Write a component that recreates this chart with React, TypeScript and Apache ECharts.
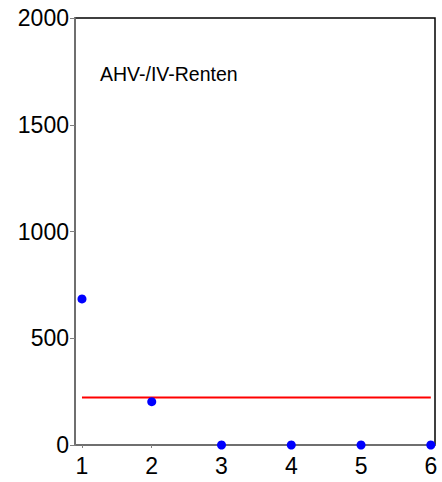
import React, { useEffect, useRef } from "react";
import * as echarts from "echarts";

const xValues = [1, 2, 3, 4, 5, 6];
const yValues = [684, 203, 0, 0, 0, 0];
const refLineX = [1, 6];
const refLineY = [223, 223];
const xTicks = [1, 2, 3, 4, 5, 6];
const label = "AHV-/IV-Renten";

export default function App() {
  const ref = useRef<HTMLDivElement>(null);
  useEffect(() => {
    if (!ref.current) return;
    const chart = echarts.init(ref.current, null, { renderer: "svg" });
    const font = "'Liberation Sans', Arial, sans-serif";
    chart.setOption({
      animation: false,
      backgroundColor: "#ffffff",
      grid: {
        left: 75,
        top: 18,
        right: 7,
        bottom: 37,
        show: true,
        borderColor: "#000000",
        borderWidth: 1.5,
        backgroundColor: "transparent",
      },
      graphic: [
        {
          type: "text",
          left: 100,
          top: 64,
          style: { text: label, font: `19.5px ${font}`, fill: "#000000" },
        },
      ],
      xAxis: {
        type: "value",
        min: 0.9,
        max: 6.06,
        splitLine: { show: false },
        axisLine: { show: true, lineStyle: { color: "#808080", width: 1.5 } },
        axisTick: {
          show: true,
          customValues: xTicks,
          length: 3,
          lineStyle: { color: "#808080" },
        },
        axisLabel: {
          customValues: xTicks,
          fontFamily: font,
          fontSize: 23,
          color: "#000000",
          margin: 9,
          formatter: (v: number) => String(v),
        },
      },
      yAxis: {
        type: "value",
        min: 0,
        max: 2000,
        interval: 500,
        splitLine: { show: false },
        axisLine: { show: true, lineStyle: { color: "#808080", width: 1.5 } },
        axisTick: { show: true, length: 5, lineStyle: { color: "#808080" } },
        axisLabel: {
          fontFamily: font,
          fontSize: 23,
          color: "#000000",
          margin: 6,
          formatter: (v: number) => String(v),
        },
      },
      series: [
        {
          type: "line",
          data: refLineX.map((x, i) => [x, refLineY[i]]),
          symbol: "none",
          lineStyle: { color: "#ff0000", width: 2 },
          z: 2,
        },
        {
          type: "scatter",
          data: xValues.map((x, i) => [x, yValues[i]]),
          symbol: "circle",
          symbolSize: 9,
          itemStyle: { color: "#0000ff", opacity: 1 },
          z: 3,
        },
      ],
    });
    return () => chart.dispose();
  }, []);
  return (
    <div
      ref={ref}
      style={{ position: "fixed", left: 0, top: 0, width: 442, height: 482 }}
    />
  );
}
